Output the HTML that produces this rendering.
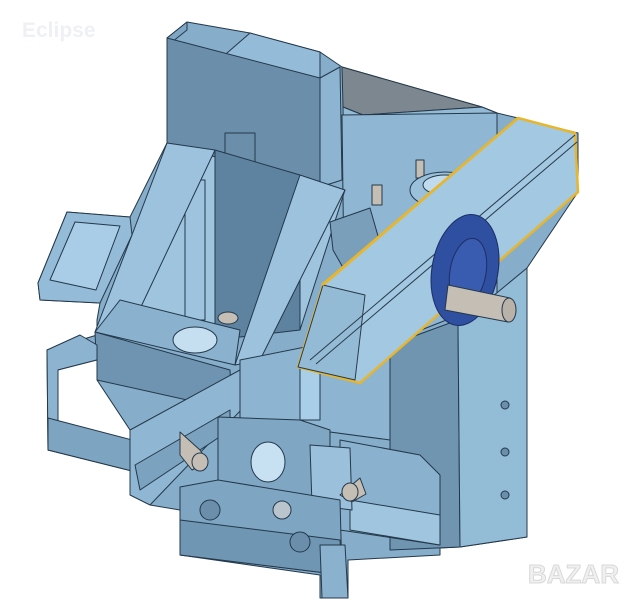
<!DOCTYPE html>
<html><head><style>
html,body{margin:0;padding:0;background:#fff;}
svg{display:block}
</style></head><body>
<svg width="639" height="600" viewBox="0 0 639 600" xmlns="http://www.w3.org/2000/svg" font-family="Liberation Sans, sans-serif">
<g stroke="#24384a" stroke-width="1" stroke-linejoin="round">
<!-- silhouette backdrop -->
<polygon points="167,38 187,22 250,33 320,52 342,67 482,107 497,113 518,118 578,133 578,192 527,268 527,537 460,547 440,548 440,555 348,560 348,598 320,598 320,575 180,555 180,510 150,505 140,473 48,450 47,350 97,335 97,320 100,303 40,300 38,283 67,212 130,217 167,143" fill="#86aecb"/>
<!-- top back block -->
<polygon points="227,53 250,33 320,52 320,90 227,90" fill="#94bcd8"/>
<!-- dark wedge -->
<polygon points="342,67 482,107 363,115 343,107" fill="#7d8790"/>
<!-- right upper block -->
<polygon points="343,107 363,115 482,107 497,113 497,150 420,230 345,250" fill="#93bbd6"/>
<polygon points="342,115 497,113 497,300 345,360" fill="#8fb7d3"/>
<!-- right tall box left face -->
<polygon points="390,345 458,320 460,547 390,550" fill="#6f95b1"/>
<!-- right tall box front -->
<polygon points="458,325 527,268 527,537 460,547" fill="#93bcd7"/>
<circle cx="505" cy="405" r="4" fill="#6a8faa"/>
<circle cx="505" cy="452" r="4" fill="#6a8faa"/>
<circle cx="505" cy="495" r="4" fill="#6a8faa"/>
<!-- back plate -->
<polygon points="167,38 187,22 187,30 167,46" fill="#7fa6c3"/>
<polygon points="320,78 340,67 342,180 320,187" fill="#8db4d0"/>
<!-- area between rails -->
<polygon points="167,143 345,190 300,330 120,320" fill="#9ec4de"/>
<polygon points="167,38 320,78 320,187 167,143" fill="#6b8fab"/>
<rect x="225" y="133" width="30" height="60" fill="#6b8fab"/>
<circle cx="233" cy="181" r="2.5" fill="#53708a"/><circle cx="244" cy="181" r="2.5" fill="#53708a"/>
<!-- central dark column -->
<polygon points="215,150 300,175 300,330 215,340" fill="#5e83a0"/>
<rect x="185" y="180" width="20" height="140" fill="#9dc3de"/>
<!-- sloped frame -->
<polygon points="167,143 215,150 130,330 95,332" fill="#9cc2dd"/>
<polygon points="300,175 345,190 260,360 235,365" fill="#9cc2dd"/>
<polygon points="120,300 240,330 235,365 95,332" fill="#8ab2ce"/>
<ellipse cx="195" cy="340" rx="22" ry="13" fill="#c5dff0"/>
<!-- front tray -->
<polygon points="95,332 230,370 232,410 97,380" fill="#6f94b1"/>
<!-- hopper -->
<polygon points="38,283 67,212 130,217 132,235 100,303 40,300" fill="#94bcd8"/>
<polygon points="50,280 75,222 120,226 96,290" fill="#a9cde6"/>
<!-- left bracket -->
<polygon points="47,350 80,335 97,345 97,360 58,370 58,440 140,460 140,473 48,450" fill="#8cb3cf"/>
<polygon points="58,370 97,360 97,380 130,430 130,455 58,440" fill="#ffffff"/>
<polygon points="48,418 140,442 140,473 48,450" fill="#7da4c0"/>
<!-- long arm -->
<polygon points="130,430 240,370 265,385 150,505 130,495" fill="#8fb7d3"/>
<polygon points="135,465 230,410 230,430 140,490" fill="#7ba2bf"/>
<!-- middle vertical structure -->
<polygon points="240,360 390,330 390,440 240,420" fill="#8db4d0"/>
<rect x="300" y="360" width="20" height="60" fill="#a9cfe8"/>
<!-- lower right slider -->
<polygon points="340,440 420,455 440,475 440,545 340,530" fill="#8ab1cd"/>
<polygon points="350,500 440,515 440,545 350,530" fill="#9fc5df"/>
<!-- central block -->
<polygon points="218,417 300,420 330,430 330,505 218,495" fill="#7fa6c3"/>
<ellipse cx="268" cy="462" rx="17" ry="20" fill="#c8e1f2"/>
<polygon points="310,445 350,448 352,510 312,505" fill="#9ac0db"/>
<!-- bottom frame -->
<polygon points="180,487 218,480 340,500 342,575 180,555" fill="#7ea5c2"/>
<polygon points="180,520 340,540 342,575 180,555" fill="#6f96b3"/>
<circle cx="210" cy="510" r="10" fill="#6b8fab"/>
<circle cx="300" cy="542" r="10" fill="#6b8fab"/>
<circle cx="282" cy="510" r="9" fill="#b9c4cc"/>
<polygon points="320,545 345,545 348,598 322,598" fill="#8ab1cd"/>
<!-- knobs -->
<g fill="#c4beb4">
<polygon points="180,432 200,450 208,462 192,470 180,455"/>
<ellipse cx="200" cy="462" rx="8" ry="9"/>
<polygon points="340,495 360,478 366,494 352,502"/>
<ellipse cx="350" cy="492" rx="8" ry="9"/>
<ellipse cx="228" cy="318" rx="10" ry="6"/>
<rect x="372" y="185" width="10" height="20"/>
<rect x="416" y="160" width="8" height="18"/>
</g>
<!-- bracket near beam -->
<polygon points="330,222 370,208 382,250 382,280 350,280 333,250" fill="#7a9fbb"/>
<!-- bearing ring -->
<ellipse cx="445" cy="190" rx="35" ry="18" fill="#9ac0db"/>
<ellipse cx="445" cy="185" rx="22" ry="10" fill="#c0dbee"/>
<!-- yellow beam -->
<polygon points="518,118 575,133 578,192 360,383 298,367 323,285" fill="#a2c8e2" stroke="#e8b62c" stroke-width="2.5"/>
<polygon points="323,285 365,295 355,380 298,367" fill="#94bbd6" stroke="#2a3a48"/>
<line x1="310" y1="360" x2="575" y2="135" stroke="#2a3a48" stroke-width="1"/>
<line x1="316" y1="364" x2="577" y2="142" stroke="#2a3a48" stroke-width="1"/>
<line x1="322" y1="285" x2="518" y2="118" stroke="#e8b62c" stroke-width="2.5"/>
<!-- wheel -->
<ellipse cx="465" cy="270" rx="33" ry="56" transform="rotate(10 465 270)" fill="#2f4fa0" stroke="#1c2f66"/>
<ellipse cx="468" cy="272" rx="18" ry="34" transform="rotate(10 468 272)" fill="#3a5cb0" stroke="#1c2f66"/>
<!-- shaft -->
<polygon points="448,285 510,298 508,322 445,310" fill="#c4beb4"/>
<ellipse cx="509" cy="310" rx="7" ry="12" fill="#b8b2a8"/>
</g>
<text x="22" y="37" font-size="21" font-weight="bold" fill="#eef1f4">Eclipse</text>
<text x="528" y="583" font-size="26" font-weight="bold" fill="#f0f0f0" stroke="#d8d8d8" stroke-width="1">BAZAR</text>
</svg>
</body></html>
